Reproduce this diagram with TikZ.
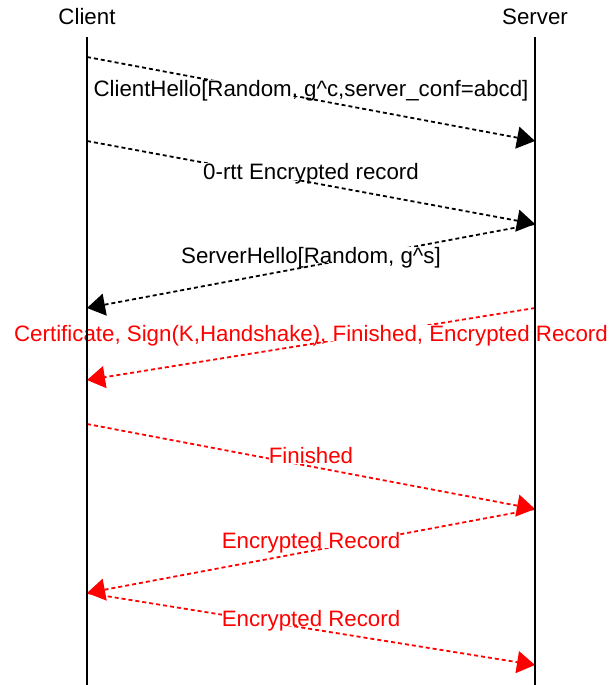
\documentclass[tikz,border=0pt]{standalone}
\usepackage{fontspec}
\setmainfont{Liberation Sans}
\usetikzlibrary{arrows.meta,positioning}

\begin{document}
\begin{tikzpicture}[
  x=1pt, y=-1pt,
  party/.style={font=\fontsize{22.3}{26}\selectfont, inner sep=0pt},
  life/.style={line width=1.6pt},
  msg/.style={line width=1.8pt, dash pattern=on 4pt off 3pt,
              -{Triangle[length=18pt, width=22pt]}},
  red msg/.style={msg, red},
  lbl/.style={midway, anchor=base, yshift=3pt, inner sep=0pt,
              fill=white, text depth=0pt,
              font=\fontsize{22.3}{26}\selectfont},
]
  \useasboundingbox (0,0) rectangle (612,685);

  % participants
  \node[party] (client) at (87,17) {Client};
  \node[party] (server) at (535,17) {Server};
  \coordinate (cTop) at (87,37);   \coordinate (cBot) at (87,685);
  \coordinate (sTop) at (535,37);  \coordinate (sBot) at (535,685);

  % message end points on the lifelines
  \coordinate (c1) at (87,57);   \coordinate (s1) at (535,141);
  \coordinate (c2) at (87,141);  \coordinate (s2) at (535,224);
  \coordinate (c3) at (87,308);
  \coordinate (s4) at (535,308); \coordinate (c4) at (87,380);
  \coordinate (c5) at (87,424);  \coordinate (s5) at (535,509);
  \coordinate (c6) at (87,593);
  \coordinate (s7) at (535,665);

  % 1-rtt part
  \draw[msg] (c1) -- node[lbl] {ClientHello[Random, g\^{}c,server\_conf=abcd]} (s1);
  \draw[msg] (c2) -- node[lbl] {0-rtt Encrypted record} (s2);
  \draw[msg] (s2) -- node[lbl] {ServerHello[Random, g\^{}s]} (c3);

  % protected part
  \draw[red msg] (s4) -- node[lbl, text=red] {Certificate, Sign(K,Handshake), Finished, Encrypted Record} (c4);
  \draw[red msg] (c5) -- node[lbl, text=red] {Finished} (s5);
  \draw[red msg] (s5) -- node[lbl, text=red] {Encrypted Record} (c6);
  \draw[red msg] (c6) -- node[lbl, text=red] {Encrypted Record} (s7);

  % lifelines
  \draw[life] (cTop) -- (cBot);
  \draw[life] (sTop) -- (sBot);
\end{tikzpicture}
\end{document}
